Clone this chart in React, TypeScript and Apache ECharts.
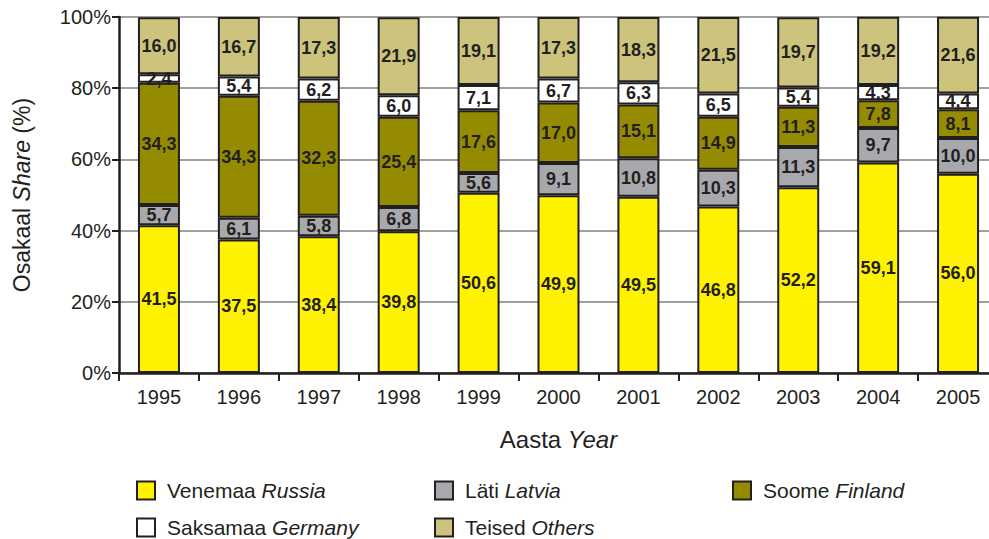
import React, { useEffect, useRef } from "react";
import * as echarts from "echarts";

const years = ["1995", "1996", "1997", "1998", "1999", "2000", "2001", "2002", "2003", "2004", "2005"];
const russia = [41.5, 37.5, 38.4, 39.8, 50.6, 49.9, 49.5, 46.8, 52.2, 59.1, 56.0];
const latvia = [5.7, 6.1, 5.8, 6.8, 5.6, 9.1, 10.8, 10.3, 11.3, 9.7, 10.0];
const finland = [34.3, 34.3, 32.3, 25.4, 17.6, 17.0, 15.1, 14.9, 11.3, 7.8, 8.1];
const germany = [2.4, 5.4, 6.2, 6.0, 7.1, 6.7, 6.3, 6.5, 5.4, 4.3, 4.4];
const others = [16.0, 16.7, 17.3, 21.9, 19.1, 17.3, 18.3, 21.5, 19.7, 19.2, 21.6];

const seriesDefs = [
  { id: "Venemaa", en: "Russia", data: russia, color: "#fff200" },
  { id: "Läti", en: "Latvia", data: latvia, color: "#a7a9ac" },
  { id: "Soome", en: "Finland", data: finland, color: "#958b00" },
  { id: "Saksamaa", en: "Germany", data: germany, color: "#ffffff" },
  { id: "Teised", en: "Others", data: others, color: "#ccc47c" },
];

const legendPos = [
  { left: 136, top: 480 },
  { left: 434, top: 480 },
  { left: 732, top: 480 },
  { left: 136, top: 517 },
  { left: 434, top: 517 },
];

const FONT = "'Liberation Sans', Arial, sans-serif";
const DARK = "#231f20";

export default function App() {
  const ref = useRef<HTMLDivElement>(null);
  useEffect(() => {
    if (!ref.current) return;
    const chart = echarts.init(ref.current, undefined, { renderer: "svg" });
    const option: any = {
      animation: false,
      backgroundColor: "#ffffff",
      textStyle: { fontFamily: FONT, color: DARK },
      grid: { left: 119, top: 17, width: 879, height: 356, containLabel: false },
      legend: seriesDefs.map((s, i) => ({
        data: [s.id],
        left: legendPos[i].left,
        top: legendPos[i].top,
        itemWidth: 18,
        itemHeight: 18,
        itemGap: 10,
        padding: 0,
        icon: "rect",
        selectedMode: false,
        itemStyle: { borderColor: DARK, borderWidth: 2 },
        formatter: (name: string) => {
          const d = seriesDefs.find((x) => x.id === name)!;
          return `{n|${d.id} }{i|${d.en}}`;
        },
        textStyle: {
          fontFamily: FONT,
          fontSize: 21,
          color: DARK,
          padding: [0, 0, 0, 7],
          rich: {
            n: { fontFamily: FONT, fontSize: 21, color: DARK },
            i: { fontFamily: FONT, fontSize: 21, color: DARK, fontStyle: "italic" },
          },
        },
      })),
      xAxis: {
        type: "category",
        data: years,
        name: "{n|Aasta }{i|Year}",
        nameLocation: "middle",
        nameGap: 54,
        nameTextStyle: {
          rich: {
            n: { fontFamily: FONT, fontSize: 24, color: DARK },
            i: { fontFamily: FONT, fontSize: 24, color: DARK, fontStyle: "italic" },
          },
        },
        axisLine: { lineStyle: { color: DARK, width: 2.5 } },
        axisTick: { show: true, length: 8, lineStyle: { color: DARK, width: 2 } },
        axisLabel: { fontFamily: FONT, fontSize: 20, color: DARK, margin: 14 },
      },
      yAxis: {
        type: "value",
        min: 0,
        max: 100,
        interval: 20,
        name: "{n|Osakaal }{i|Share}{n| (%)}",
        nameLocation: "middle",
        nameRotate: 90,
        nameGap: 86,
        nameTextStyle: {
          rich: {
            n: { fontFamily: FONT, fontSize: 23, color: DARK },
            i: { fontFamily: FONT, fontSize: 23, color: DARK, fontStyle: "italic" },
          },
        },
        axisLine: { show: true, lineStyle: { color: DARK, width: 2.5 } },
        axisTick: { show: true, length: 7, lineStyle: { color: DARK, width: 2 } },
        axisLabel: { fontFamily: FONT, fontSize: 20, color: DARK, margin: 8, formatter: "{value}%" },
        splitLine: { show: true, lineStyle: { color: "#808080", width: 1.5 } },
      },
      series: seriesDefs.map((s) => ({
        name: s.id,
        type: "bar",
        stack: "total",
        data: s.data,
        barWidth: 42,
        itemStyle: { color: s.color, borderColor: DARK, borderWidth: 2 },
        label: {
          show: true,
          position: "inside",
          fontFamily: FONT,
          fontWeight: "bold",
          fontSize: 18,
          color: DARK,
          formatter: (p: any) => Number(p.value).toFixed(1).replace(".", ","),
        },
      })),
    };
    chart.setOption(option);
    return () => chart.dispose();
  }, []);
  return (
    <div style={{ width: 989, height: 539, position: "absolute", left: 0, top: 0, overflow: "hidden" }}>
      <div ref={ref} style={{ width: 1000, height: 539 }} />
    </div>
  );
}
